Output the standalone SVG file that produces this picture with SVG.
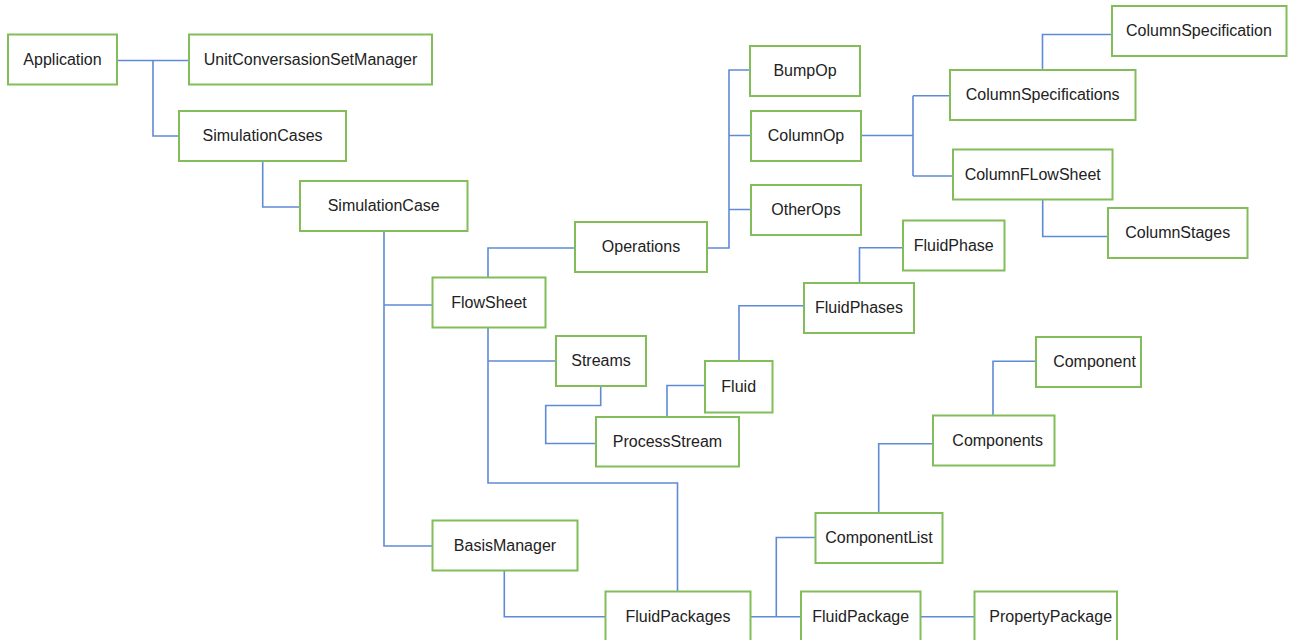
<svg xmlns="http://www.w3.org/2000/svg" width="1293" height="640" viewBox="0 0 1293 640">
<style>
.n rect{fill:#fff;stroke:#82bd5a;stroke-width:2}
.n text{font-family:"Liberation Sans",Arial,sans-serif;font-size:16px;fill:#222;text-anchor:middle;dominant-baseline:central}
.c path{fill:none;stroke:#5f8ad6;stroke-width:1.6}
</style>
<rect width="1293" height="640" fill="#fff"/>
<g class="c">
<path d="M117,60.5 H189 M153,60.5 V136 H179"/>
<path d="M262.7,161 V207 H300"/>
<path d="M384,231 V546 H432 M384,305 H432"/>
<path d="M488,277 V248 H575"/>
<path d="M707,248 H729 V70 H750 M729,135.5 H751 M729,209.5 H751"/>
<path d="M861,135.5 H913 M913,95.7 V176 M913,95.7 H950 M913,176 H953"/>
<path d="M1042.5,70 V34.5 H1112"/>
<path d="M1042.7,199.5 V236.5 H1108"/>
<path d="M488,327 V483 H677.5 V591 M488,361 H556"/>
<path d="M600.7,386 V405.5 H545.7 V443.5 H596"/>
<path d="M667,417 V385.5 H705"/>
<path d="M739,361 V305.7 H804"/>
<path d="M859.5,283 V247.7 H903"/>
<path d="M504.3,570 V616.7 H605"/>
<path d="M750,616.7 H801 M776.3,616.7 V537.5 H815"/>
<path d="M920,616.7 H974"/>
<path d="M878.7,513 V443.7 H933"/>
<path d="M993,415 V361.3 H1036"/>
</g>
<g id="application" class="n"><rect x="8" y="34.5" width="109" height="50"/><text x="62.5" y="59">Application</text></g>
<g id="unitconv" class="n"><rect x="189" y="34.5" width="243" height="50"/><text x="310.5" y="59">UnitConversasionSetManager</text></g>
<g id="simulationcases" class="n"><rect x="179" y="111" width="167" height="50"/><text x="262.5" y="135.5">SimulationCases</text></g>
<g id="simulationcase" class="n"><rect x="300" y="181" width="167.5" height="50"/><text x="383.7" y="205.5">SimulationCase</text></g>
<g id="operations" class="n"><rect x="575" y="222" width="132" height="50"/><text x="641" y="246.5">Operations</text></g>
<g id="bumpop" class="n"><rect x="750" y="46" width="110" height="50"/><text x="805" y="70.5">BumpOp</text></g>
<g id="columnop" class="n"><rect x="751" y="111" width="110" height="50"/><text x="806" y="135.5">ColumnOp</text></g>
<g id="otherops" class="n"><rect x="751" y="185" width="110" height="50"/><text x="806" y="209.5">OtherOps</text></g>
<g id="columnspecification" class="n"><rect x="1112" y="6" width="174.5" height="50"/><text x="1199" y="30.5">ColumnSpecification</text></g>
<g id="columnspecifications" class="n"><rect x="950" y="70" width="185.5" height="50"/><text x="1042.7" y="94.5">ColumnSpecifications</text></g>
<g id="columnflowsheet" class="n"><rect x="953" y="149.5" width="159.5" height="50"/><text x="1032.7" y="174">ColumnFLowSheet</text></g>
<g id="columnstages" class="n"><rect x="1108" y="208" width="139.5" height="50"/><text x="1177.7" y="232.5">ColumnStages</text></g>
<g id="fluidphase" class="n"><rect x="903" y="220.5" width="101.5" height="50"/><text x="953.7" y="245">FluidPhase</text></g>
<g id="fluidphases" class="n"><rect x="804" y="283" width="110" height="50"/><text x="859" y="307.5">FluidPhases</text></g>
<g id="flowsheet" class="n"><rect x="432.5" y="277.5" width="113" height="50"/><text x="489" y="302">FlowSheet</text></g>
<g id="streams" class="n"><rect x="556" y="336" width="90" height="50"/><text x="601" y="360.5">Streams</text></g>
<g id="fluid" class="n"><rect x="705" y="361" width="67.5" height="51.5"/><text x="738.7" y="386">Fluid</text></g>
<g id="processstream" class="n"><rect x="596" y="417" width="143" height="49.5"/><text x="667.5" y="441.2">ProcessStream</text></g>
<g id="component" class="n"><rect x="1036" y="337" width="105" height="50"/><text x="1094.5" y="361.5">Component</text></g>
<g id="components" class="n"><rect x="933" y="415.5" width="121.5" height="50"/><text x="997.7" y="440">Components</text></g>
<g id="componentlist" class="n"><rect x="815.5" y="513" width="127" height="50"/><text x="879" y="537.5">ComponentList</text></g>
<g id="basismanager" class="n"><rect x="432.5" y="520.5" width="145" height="50"/><text x="505" y="545">BasisManager</text></g>
<g id="fluidpackages" class="n"><rect x="605.5" y="591.5" width="145" height="52"/><text x="678" y="616.5">FluidPackages</text></g>
<g id="fluidpackage" class="n"><rect x="801" y="591.5" width="119.5" height="52"/><text x="860.7" y="616.5">FluidPackage</text></g>
<g id="propertypackage" class="n"><rect x="974.5" y="591.5" width="142.5" height="52"/><text x="1050.7" y="616.5">PropertyPackage</text></g>
</svg>
